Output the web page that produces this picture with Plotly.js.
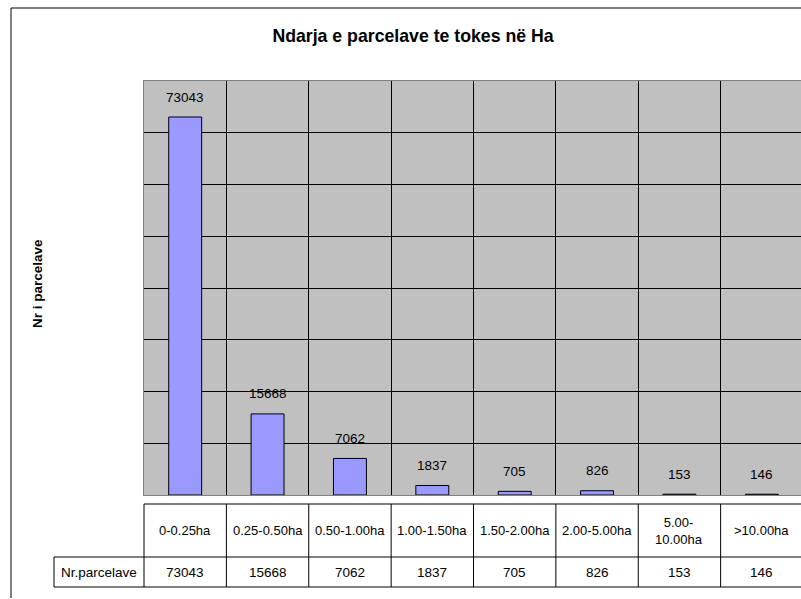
<!DOCTYPE html>
<html><head><meta charset="utf-8">
<script src="https://cdn.plot.ly/plotly-3.0.1.min.js"></script>
<style>body{margin:0;background:#fff}#chart{width:801px;height:599px}</style>
</head><body><div id="chart"></div>
<script>
const categories = ['0-0.25ha','0.25-0.50ha','0.50-1.00ha','1.00-1.50ha','1.50-2.00ha','2.00-5.00ha','5.00-10.00ha','>10.00ha'];
const categoryLabels = ['0-0.25ha','0.25-0.50ha','0.50-1.00ha','1.00-1.50ha','1.50-2.00ha','2.00-5.00ha','5.00-<br>10.00ha','>10.00ha'];
const parcelCounts = [73043,15668,7062,1837,705,826,153,146];
const seriesName = 'Nr.parcelave';
const chartTitle = 'Ndarja e parcelave te tokes në Ha';
const yTitle = 'Nr i parcelave';

const FONT = 'Arial, "Liberation Sans", sans-serif';
const W = 801, H = 599, M = {l:144, r:0, t:81, b:104};
const PW = W - M.l - M.r, PH = H - M.t - M.b;
const px = x => (x - M.l) / PW;
const py = y => (H - M.b - y) / PH;
const xRange = [-0.5, -0.5 + categories.length * 657 / 659];
const xi = i => (i - xRange[0]) / (xRange[1] - xRange[0]);

const shapes = [];
const line = (x0,y0,x1,y1,c) => shapes.push({type:'line', xref:'paper', yref:'paper', x0, y0, x1, y1, line:{color:c||'#000', width:1}});
// outer chart border
line(px(11), py(8), px(805), py(8));
line(px(11), py(8), px(11), py(598));
// data table
const tEnd = xi(categories.length - 0.5);
line(0, py(504), tEnd, py(504));
line(px(54), py(557), tEnd, py(557));
line(px(54), py(587), tEnd, py(587));
line(px(54), py(557), px(54), py(587));
for (let i = 0; i <= categories.length; i++) {
  line(xi(i - 0.5), py(504), xi(i - 0.5), py(587));
}

const annotations = [];
categories.forEach((c, i) => {
  annotations.push({x: c, y: parcelCounts[i], xref:'x', yref:'y', text: String(parcelCounts[i]), showarrow:false, yshift:20, yanchor:'middle', font:{family:FONT, size:13.5, color:'#000'}});
  annotations.push({x: c, y: py(530.5), xref:'x', yref:'paper', text: categoryLabels[i], showarrow:false, yanchor:'middle', font:{family:FONT, size:13, color:'#000'}});
  annotations.push({x: c, y: py(572), xref:'x', yref:'paper', text: String(parcelCounts[i]), showarrow:false, yanchor:'middle', font:{family:FONT, size:13.5, color:'#000'}});
});
annotations.push({x: px(99), y: py(572), xref:'paper', yref:'paper', text: seriesName, showarrow:false, xanchor:'center', yanchor:'middle', font:{family:FONT, size:13.5, color:'#000'}});
annotations.push({x: px(37), y: py(284), xref:'paper', yref:'paper', text: '<b>' + yTitle + '</b>', textangle:-90, showarrow:false, xanchor:'center', yanchor:'middle', font:{family:FONT, size:13.5, color:'#000'}});

const trace = {
  type:'bar', x: categories, y: parcelCounts, name: seriesName,
  marker:{color:'#9999FF', line:{color:'#000', width:1}},
  hoverinfo:'x+y'
};

const layout = {
  width: W, height: H,
  margin: M,
  paper_bgcolor:'#ffffff', plot_bgcolor:'#C0C0C0',
  showlegend:false,
  bargap: 0.6,
  title: {text: '<b>' + chartTitle + '</b>', x: 413 / W, xref:'container', xanchor:'center', y: 1 - 36 / H, yref:'container', yanchor:'middle', font:{family:FONT, size:17.7, color:'#000'}},
  xaxis: {type:'category', range: xRange, tickson:'boundaries', showgrid:true, gridcolor:'#000', gridwidth:1, showticklabels:false, ticks:'', showline:true, linecolor:'#808080', linewidth:1, mirror:true, zeroline:false, fixedrange:true},
  yaxis: {range:[0, 80000], dtick:10000, showgrid:true, gridcolor:'#000', gridwidth:1, showticklabels:false, ticks:'', showline:true, linecolor:'#808080', linewidth:1, mirror:true, zeroline:false, fixedrange:true},
  shapes, annotations,
  font:{family:FONT, color:'#000'}
};

Plotly.newPlot('chart', [trace], layout, {displayModeBar:false, staticPlot:true});
</script>
</body></html>
